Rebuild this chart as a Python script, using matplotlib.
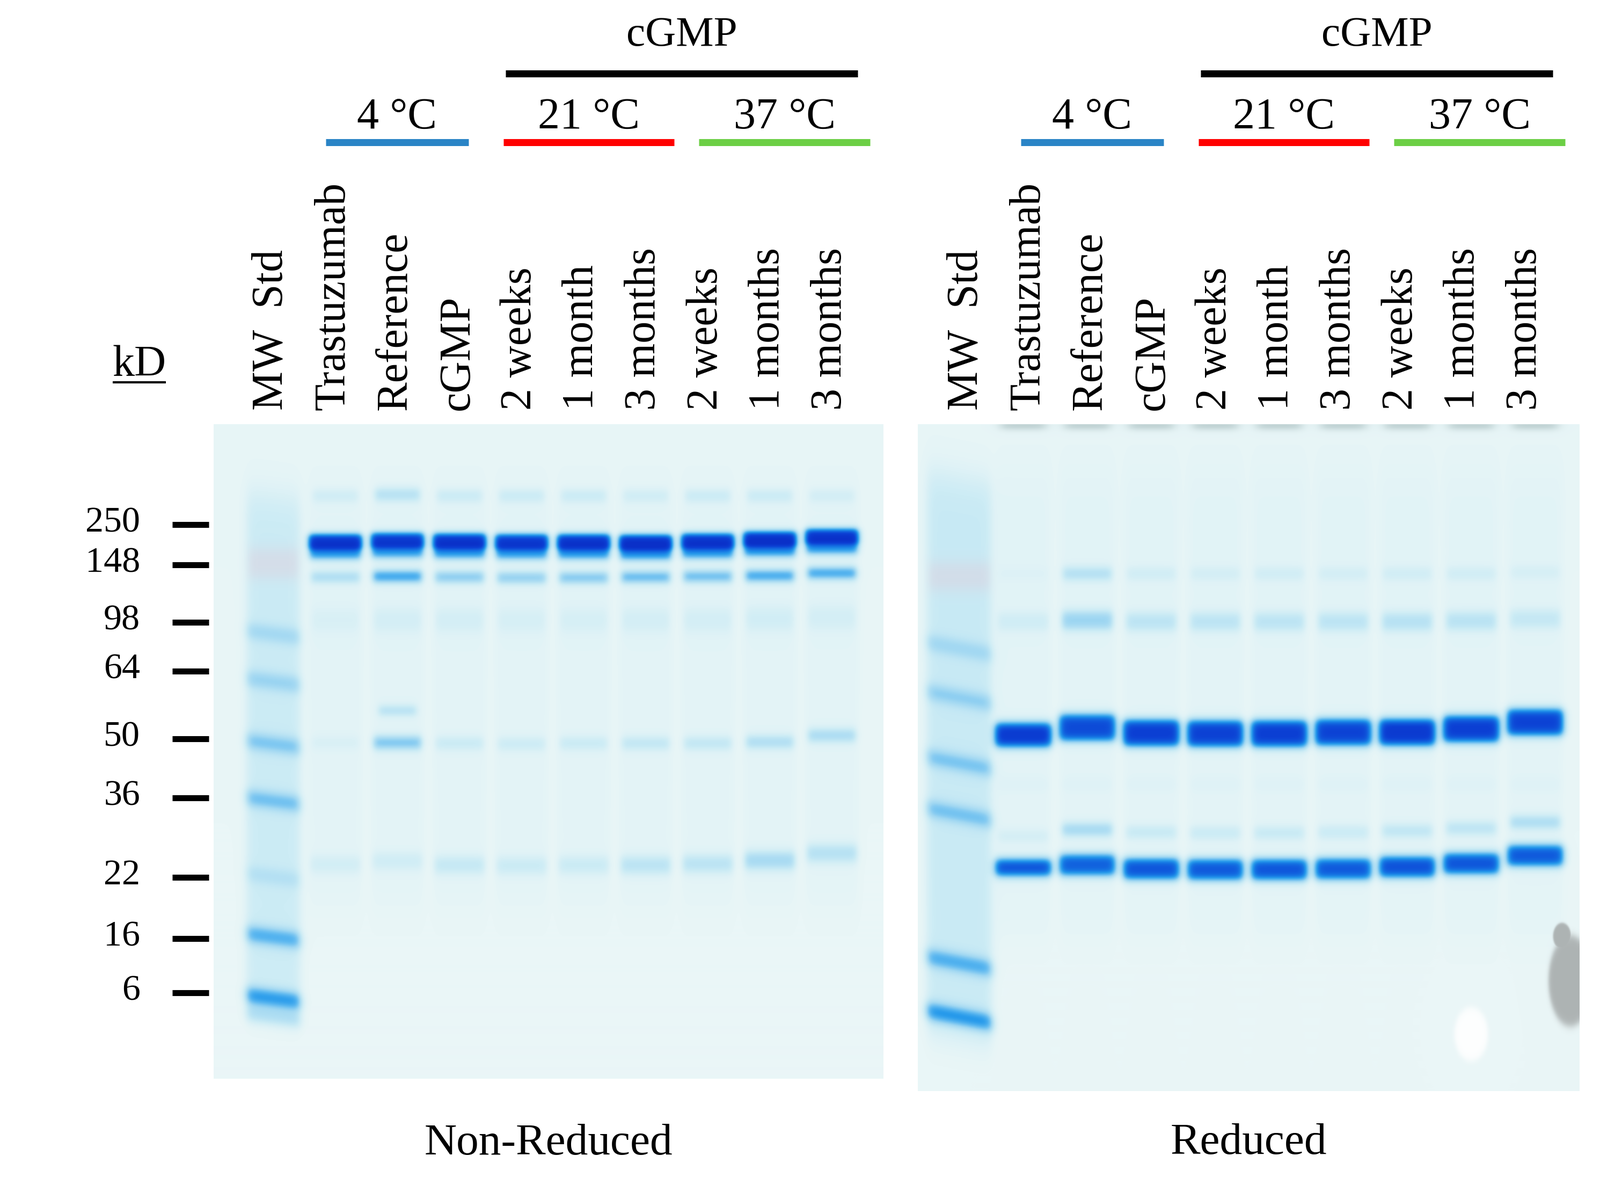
import numpy as np
import matplotlib
matplotlib.use("Agg")
import matplotlib.pyplot as plt
from matplotlib.colors import LinearSegmentedColormap
from matplotlib.transforms import ScaledTranslation

plt.rcParams['font.family'] = ['Liberation Serif', 'DejaVu Serif']

# ---------------- values ----------------
lane_names = ["MW  Std", "Trastuzumab", "Reference", "cGMP",
              "2 weeks", "1 month", "3 months", "2 weeks", "1 months", "3 months"]
temp_names = ["4 °C", "21 °C", "37 °C"]
temp_colors = ["#2a84c6", "#ff0000", "#6ccf45"]
temp_spans = [(0.87, 3.17), (3.73, 6.48), (6.88, 9.64)]   # lane units
cgmp_span = (3.77, 9.44)

# size marker ticks (relative migration, 0 = top of gel)
marker_kd = [250, 148, 98, 64, 50, 36, 22, 16, 6]
marker_rf = [0.153, 0.215, 0.303, 0.377, 0.481, 0.571, 0.692, 0.786, 0.869]

# MW standard lane bands
nr_ladder_rf = [0.321, 0.394, 0.489, 0.576, 0.692, 0.784, 0.878, 0.905]
nr_ladder_amp = [0.16, 0.20, 0.28, 0.32, 0.10, 0.42, 0.58, 0.20]
r_ladder_rf = [0.336, 0.410, 0.508, 0.585, 0.808, 0.889]
r_ladder_amp = [0.16, 0.22, 0.28, 0.30, 0.42, 0.58]

# non-reduced gel, sample lanes 1..9
nr_top_rf = [0.110, 0.108, 0.110, 0.110, 0.110, 0.110, 0.110, 0.110, 0.110]
nr_top_amp = [0.08, 0.18, 0.10, 0.10, 0.10, 0.08, 0.10, 0.10, 0.07]
nr_main_rf = [0.180, 0.178, 0.179, 0.180, 0.180, 0.181, 0.179, 0.176, 0.172]
nr_main_amp = [1.10, 1.05, 1.10, 1.05, 1.10, 1.15, 1.10, 1.15, 1.10]
nr_hl_rf = [0.234, 0.233, 0.234, 0.235, 0.235, 0.234, 0.233, 0.232, 0.228]
nr_hl_amp = [0.20, 0.55, 0.32, 0.30, 0.34, 0.42, 0.40, 0.52, 0.52]
nr_98_rf = [0.300, 0.300, 0.300, 0.300, 0.300, 0.300, 0.300, 0.298, 0.296]
nr_98_amp = [0.04, 0.06, 0.06, 0.05, 0.05, 0.06, 0.06, 0.07, 0.06]
nr_75_rf = [0.438, 0.438, 0.438, 0.438, 0.438, 0.438, 0.438, 0.438, 0.438]
nr_75_amp = [0.0, 0.18, 0.0, 0.0, 0.0, 0.0, 0.0, 0.0, 0.0]
nr_hc_rf = [0.487, 0.487, 0.488, 0.489, 0.488, 0.488, 0.488, 0.486, 0.476]
nr_hc_amp = [0.04, 0.36, 0.10, 0.09, 0.10, 0.13, 0.13, 0.20, 0.22]
nr_lc_rf = [0.673, 0.668, 0.674, 0.675, 0.674, 0.674, 0.672, 0.667, 0.656]
nr_lc_amp = [0.07, 0.08, 0.12, 0.10, 0.10, 0.16, 0.16, 0.24, 0.18]

# reduced gel, sample lanes 1..9
r_top_rf = [0.224, 0.224, 0.224, 0.224, 0.224, 0.224, 0.224, 0.224, 0.222]
r_top_amp = [0.02, 0.18, 0.07, 0.06, 0.07, 0.06, 0.07, 0.07, 0.05]
r_100_rf = [0.296, 0.294, 0.296, 0.296, 0.296, 0.296, 0.296, 0.295, 0.292]
r_100_amp = [0.07, 0.26, 0.14, 0.14, 0.14, 0.14, 0.16, 0.15, 0.11]
r_hc_rf = [0.466, 0.455, 0.463, 0.464, 0.464, 0.462, 0.462, 0.457, 0.447]
r_hc_amp = [1.05, 0.92, 1.00, 0.98, 1.00, 0.97, 1.05, 1.00, 0.97]
r_lc2_rf = [0.618, 0.608, 0.612, 0.613, 0.613, 0.612, 0.610, 0.606, 0.597]
r_lc2_amp = [0.06, 0.24, 0.11, 0.10, 0.11, 0.10, 0.14, 0.15, 0.21]
r_lc_rf = [0.665, 0.661, 0.667, 0.668, 0.668, 0.667, 0.664, 0.659, 0.647]
r_lc_amp = [0.92, 0.82, 0.88, 0.86, 0.88, 0.86, 0.90, 0.88, 0.86]

W, H = 2981, 2220
nr_xlim = (-0.959, 9.827)
r_xlim = (-0.645, 9.69)

gel_cmap = LinearSegmentedColormap.from_list("gel", [
    (0.0, (234/255, 246/255, 247/255)),
    (0.1/1.2, (205/255, 236/255, 245/255)),
    (0.25/1.2, (160/255, 215/255, 242/255)),
    (0.4/1.2, (95/255, 185/255, 240/255)),
    (0.55/1.2, (40/255, 155/255, 235/255)),
    (0.7/1.2, (22/255, 120/255, 228/255)),
    (0.85/1.2, (16/255, 90/255, 220/255)),
    (1.0/1.2, (12/255, 64/255, 212/255)),
    (1.0, (10/255, 48/255, 200/255)),
])


def band(X, Y, x0, y0, amp, w, hh, ex=0.05, ey=0.006, tilt=0.0):
    dx = X - x0
    h = 0.5 * (np.tanh((dx + w / 2) / ex) - np.tanh((dx - w / 2) / ex))
    yc = y0 + tilt * dx
    v = 0.5 * (np.tanh((Y - yc + hh) / ey) - np.tanh((Y - yc - hh) / ey))
    return amp * h * v


def blob(X, Y, x0, y0, rx, ry, soft=0.25):
    r = np.sqrt(((X - x0) / rx) ** 2 + ((Y - y0) / ry) ** 2)
    return 0.5 * (1 - np.tanh((r - 1) / soft))


def blur(A, s, pad=30):
    # gaussian blur (in pixels) through the fft, edge padded so nothing wraps
    P = np.pad(A, pad, mode='edge')
    fy = np.fft.fftfreq(P.shape[0])[:, None]
    fx = np.fft.rfftfreq(P.shape[1])[None, :]
    G = np.exp(-2 * (np.pi * s) ** 2 * (fx ** 2 + fy ** 2))
    P = np.fft.irfft2(np.fft.rfft2(P) * G, s=P.shape)
    return P[pad:-pad, pad:-pad]


def colorize(A, overlays):
    rgb = gel_cmap(np.clip(A / 1.2, 0, 1))[..., :3]
    for f, col in overlays:
        f = np.clip(f, 0, 1)[..., None]
        rgb = rgb * (1 - f) + np.array(col) * f
    return rgb


def px_axes(x0, y0, x1, y1):
    return fig.add_axes([x0 / W, 1 - y1 / H, (x1 - x0) / W, (y1 - y0) / H])


fig = plt.figure(figsize=(W / 100, H / 100), dpi=100)

# ---------------- non-reduced gel ----------------
X = np.linspace(nr_xlim[0], nr_xlim[1], 1248)[None, :]
Y = np.linspace(0, 1, 1219)[:, None]
A = 0.012 * (1 - Y) + 0 * X
A = A + band(X, Y, 0, 0.5, 0.10, 0.85, 0.39, ex=0.08, ey=0.03, tilt=0.012)
for rf, a in zip(nr_ladder_rf, nr_ladder_amp):
    A += band(X, Y, 0, rf, a, 0.85, 0.010, ex=0.07, ey=0.009, tilt=0.012)
pink = band(X, Y, 0, 0.213, 0.3, 0.8, 0.022, ex=0.06, ey=0.012)
for i in range(9):
    xi = i + 1
    A += band(X, Y, xi, 0.42, 0.02, 0.85, 0.32, ex=0.06, ey=0.04)
    A += band(X, Y, xi, nr_top_rf[i], nr_top_amp[i], 0.72, 0.008, ey=0.007)
    A += band(X, Y, xi, nr_main_rf[i], nr_main_amp[i], 0.84, 0.010, ey=0.005)
    A += band(X, Y, xi, nr_main_rf[i] + 0.016, 0.55 * nr_main_amp[i], 0.82, 0.009, ey=0.006)
    A += band(X, Y, xi, nr_hl_rf[i], nr_hl_amp[i], 0.78, 0.007, ey=0.006)
    A += band(X, Y, xi, nr_98_rf[i], nr_98_amp[i], 0.76, 0.015, ey=0.012)
    A += band(X, Y, xi, nr_75_rf[i], nr_75_amp[i], 0.6, 0.006, ey=0.006)
    A += band(X, Y, xi, nr_hc_rf[i], nr_hc_amp[i], 0.76, 0.008, ey=0.007)
    A += band(X, Y, xi, nr_lc_rf[i], nr_lc_amp[i], 0.80, 0.011, ey=0.009)
A = blur(A, 3.0)
rgb = colorize(A, [(blur(pink, 3.0), (0.93, 0.74, 0.80))])

ax_nr = px_axes(398, 790, 1646, 2009)
ax_nr.imshow(rgb, extent=(nr_xlim[0], nr_xlim[1], 1, 0), aspect='auto',
             interpolation='bilinear')
ax_nr.set_xlim(nr_xlim)
ax_nr.set_ylim(1, 0)
ax_nr.set_xticks([])
ax_nr.set_yticks(marker_rf)
ax_nr.set_yticklabels([str(k) for k in marker_kd])
for s in ax_nr.spines.values():
    s.set_visible(False)
ax_nr.spines['left'].set_position(('outward', 6.5))
ax_nr.tick_params(axis='y', length=49, width=8, pad=43, labelsize=49,
                  direction='out', color='black')
ax_nr.set_xlabel("Non-Reduced", fontsize=60, labelpad=60)
lift = ScaledTranslation(0, 0.10, fig.dpi_scale_trans)
for lab in ax_nr.get_yticklabels():
    lab.set_transform(lab.get_transform() + lift)

# ---------------- reduced gel ----------------
X = np.linspace(r_xlim[0], r_xlim[1], 1233)[None, :]
Y = np.linspace(0, 1, 1242)[:, None]
A = 0.012 * (1 - Y) + 0 * X
A = A + band(X, Y, 0, 0.5, 0.11, 1.0, 0.42, ex=0.08, ey=0.03, tilt=0.018)
for rf, a in zip(r_ladder_rf, r_ladder_amp):
    A += band(X, Y, 0, rf, a, 1.0, 0.010, ex=0.07, ey=0.009, tilt=0.018)
pink = band(X, Y, 0, 0.228, 0.3, 0.95, 0.02, ex=0.06, ey=0.012)
dark = np.zeros_like(A)
for i in range(9):
    xi = i + 1
    hh_hc = 0.016 if i == 0 else 0.018
    hh_lc = 0.011 if i == 0 else 0.014
    A += band(X, Y, xi, 0.42, 0.02, 0.85, 0.35, ex=0.06, ey=0.04)
    A += band(X, Y, xi, r_top_rf[i], r_top_amp[i], 0.76, 0.008, ey=0.007)
    A += band(X, Y, xi, r_100_rf[i], r_100_amp[i], 0.78, 0.012, ey=0.008)
    A += band(X, Y, xi, r_hc_rf[i], r_hc_amp[i], 0.86, hh_hc, ex=0.06, ey=0.007)
    A += band(X, Y, xi, 0.54, 0.02, 0.78, 0.008, ey=0.008)
    A += band(X, Y, xi, r_lc2_rf[i], r_lc2_amp[i], 0.78, 0.008, ey=0.007)
    A += band(X, Y, xi, r_lc_rf[i], r_lc_amp[i], 0.86, hh_lc, ex=0.06, ey=0.007)
    dark += band(X, Y, xi, 0.002, 0.35, 0.70, 0.004, ex=0.1, ey=0.005)
A = blur(A, 3.0)
gray = 0.92 * np.maximum(blob(X, Y, 9.55, 0.835, 0.34, 0.068, soft=0.1),
                         blob(X, Y, 9.42, 0.768, 0.14, 0.02, soft=0.1))
white = 0.92 * blob(X, Y, 8.0, 0.915, 0.26, 0.04, soft=0.15)
rgb = colorize(A, [(blur(pink, 3.0), (0.93, 0.74, 0.80)), (blur(dark, 2.0), (0.25, 0.38, 0.38)),
                   (gray, (0.66, 0.68, 0.68)), (white, (1.0, 1.0, 1.0))])

ax_r = px_axes(1710, 790, 2943, 2032)
ax_r.imshow(rgb, extent=(r_xlim[0], r_xlim[1], 1, 0), aspect='auto',
            interpolation='bilinear')
ax_r.set_xlim(r_xlim)
ax_r.set_ylim(1, 0)
ax_r.set_xticks([])
ax_r.set_yticks([])
for s in ax_r.spines.values():
    s.set_visible(False)
ax_r.set_xlabel("Reduced", fontsize=60, labelpad=43)


# ---------------- lane headers ----------------
def draw_header(ax):
    ax.set_xlim(nr_xlim)
    ax.set_ylim(790, 0)
    ax.axis('off')
    ax.text(np.mean(cgmp_span), 85, "cGMP", ha='center', va='baseline', fontsize=57)
    ax.plot(cgmp_span, [137.5, 137.5], color='black', lw=9.4, solid_capstyle='butt')
    for name, col, span in zip(temp_names, temp_colors, temp_spans):
        ax.text(np.mean(span), 239, name, ha='center', va='baseline', fontsize=59)
        ax.plot(span, [265.5, 265.5], color=col, lw=9.4, solid_capstyle='butt')
    for i, name in enumerate(lane_names):
        ax.text(i, 764, name, rotation=90, ha='center', va='bottom', fontsize=59)


hdr_l = px_axes(395, 0, 1643, 790)
draw_header(hdr_l)
hdr_l.text(-2.13, 700, "kD", ha='center', va='baseline', fontsize=59)
hdr_l.plot([-2.56, -1.70], [712, 712], color='black', lw=3, solid_capstyle='butt',
           clip_on=False)
hdr_r = px_axes(1690, 0, 2938, 790)
draw_header(hdr_r)

fig.savefig("out.png", dpi=100, facecolor='white')
